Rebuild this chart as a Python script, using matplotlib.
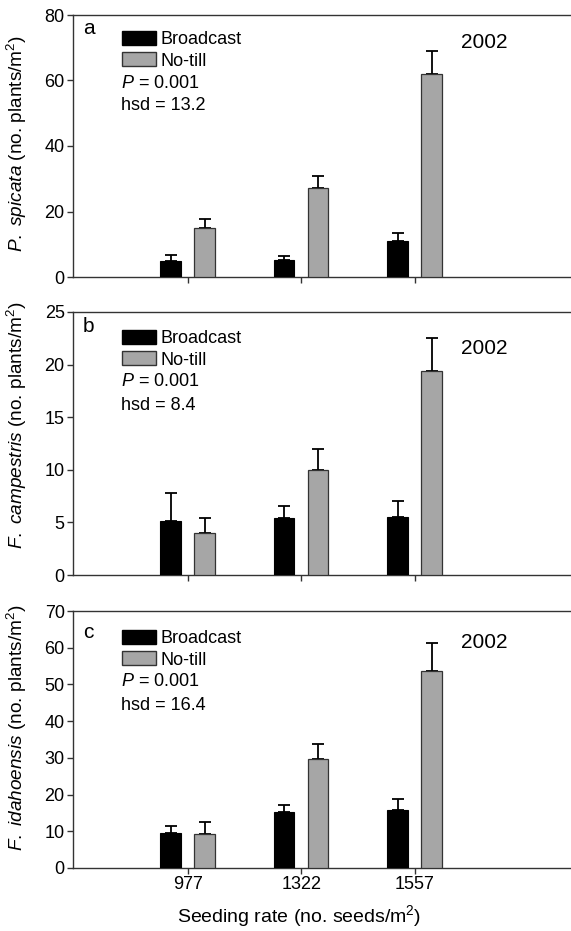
import numpy as np
import matplotlib
matplotlib.use("Agg")
import matplotlib.pyplot as plt
from matplotlib.patches import Patch

plt.rcParams['font.family'] = ['Liberation Sans', 'DejaVu Sans']
plt.rcParams['mathtext.fontset'] = 'custom'
plt.rcParams['mathtext.rm'] = 'Liberation Sans'
plt.rcParams['mathtext.it'] = 'Liberation Sans:italic'

# data (plants per m2, mean and upper error)
seeding_rates = ["977", "1322", "1557"]
species = ["P.\\ spicata", "F.\\ campestris", "F.\\ idahoensis"]
panel_letters = ["a", "b", "c"]
hsd_values = ["13.2", "8.4", "16.4"]
p_values = ["0.001", "0.001", "0.001"]
year = "2002"
y_max = [80, 25, 70]
y_step = [20, 5, 10]

broadcast_mean = [[5.0, 5.3, 11.0], [5.1, 5.4, 5.5], [9.5, 15.2, 15.8]]
broadcast_err = [[1.6, 1.0, 2.5], [2.7, 1.15, 1.5], [2.0, 2.0, 3.0]]
notill_mean = [[15.0, 27.2, 62.1], [4.0, 10.0, 19.4], [9.3, 29.6, 53.7]]
notill_err = [[2.7, 3.6, 7.0], [1.45, 2.0, 3.1], [3.1, 4.3, 7.6]]

fig = plt.figure(figsize=(5.71, 9.31), dpi=100)

# axes boxes in pixels: (top, bottom)
boxes = [(15, 277), (312, 575), (611, 868)]
# pixel offsets below axes top: letter, legend top, P line, hsd line, year
offs = [(13, 16, 68, 91, 27), (15, 18, 70, 93, 37), (21, 19, 71, 94, 32)]
# y position of the y label centre (axes fraction)
ylab_y = [0.508, 0.57, 0.545]

grey = '#a6a6a6'
edge = '#333333'
x = np.arange(len(seeding_rates))
w = 0.18

for i in range(3):
    top, bot = boxes[i]
    ax = fig.add_axes([73 / 571, 1 - bot / 931, 498 / 571, (bot - top) / 931])
    ax.bar(x - 0.15, broadcast_mean[i], w, color='black', edgecolor='black', lw=0.8, zorder=3)
    ax.bar(x + 0.15, notill_mean[i], w, color=grey, edgecolor=edge, lw=0.9, zorder=3)
    ax.errorbar(x - 0.15, broadcast_mean[i], yerr=[np.zeros(3), broadcast_err[i]], fmt='none',
                ecolor='black', elinewidth=1.3, capsize=4, capthick=1.3, zorder=2)
    ax.errorbar(x + 0.15, notill_mean[i], yerr=[np.zeros(3), notill_err[i]], fmt='none',
                ecolor='black', elinewidth=1.3, capsize=4, capthick=1.3, zorder=2)

    ax.set_xlim(-1.01, -1.01 + 498 / 113.5)
    ax.set_ylim(0, y_max[i])
    ax.set_yticks(np.arange(0, y_max[i] + 1, y_step[i]))
    ax.set_xticks(x)
    if i == 2:
        ax.set_xticklabels(seeding_rates)
        ax.set_xlabel('Seeding rate (no. seeds/m$^2$)', fontsize=14)
        ax.xaxis.set_label_coords(0.454, -0.135)
    else:
        ax.set_xticklabels([])
    ax.tick_params(direction='out', length=4, width=1, color=edge, labelsize=13, pad=2)
    ax.spines['right'].set_visible(False)
    for s in ['top', 'left', 'bottom']:
        ax.spines[s].set_color(edge)
        ax.spines[s].set_linewidth(1)
    ax.set_ylabel('$\\mathit{' + species[i] + '}$ (no. plants/m$^2$)', fontsize=13.7)
    ax.yaxis.set_label_coords(-0.088, ylab_y[i])

    h = bot - top
    o = offs[i]
    ax.annotate(panel_letters[i], (0, 1), xycoords='axes fraction', xytext=(10, -o[0]),
                textcoords='offset pixels', ha='left', va='center', fontsize=15)
    ax.annotate(year, (0, 1), xycoords='axes fraction', xytext=(435, -o[4]),
                textcoords='offset pixels', ha='right', va='center', fontsize=15)
    ax.annotate('$\\mathit{P}$ = ' + p_values[i], (0, 1), xycoords='axes fraction', xytext=(48, -o[2]),
                textcoords='offset pixels', ha='left', va='center', fontsize=13)
    ax.annotate('hsd = ' + hsd_values[i], (0, 1), xycoords='axes fraction', xytext=(48, -o[3]),
                textcoords='offset pixels', ha='left', va='center', fontsize=13)

    handles = [Patch(facecolor='black', edgecolor='black'), Patch(facecolor=grey, edgecolor=edge)]
    ax.legend(handles, ['Broadcast', 'No-till'], loc='upper left',
              bbox_to_anchor=(49 / 498, 1 - o[1] / h), frameon=False, fontsize=13,
              borderpad=0, borderaxespad=0, handlelength=1.9, handleheight=0.85,
              handletextpad=0.25, labelspacing=0.2)

fig.savefig('out.png', dpi=100)
